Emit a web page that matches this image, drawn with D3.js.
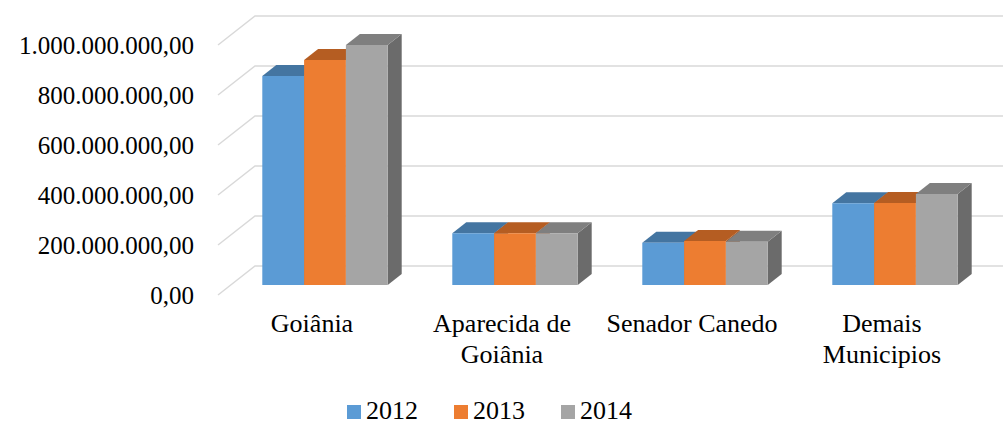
<!DOCTYPE html>
<html>
<head>
<meta charset="utf-8">
<script src="https://cdn.jsdelivr.net/npm/d3@7.9.0/dist/d3.min.js"></script>
<style>
  body { margin: 0; background: #fff; }
  text { font-family: "Liberation Serif", "Times New Roman", serif; fill: #000; }
</style>
</head>
<body>
<svg id="chart" width="1003" height="424"></svg>
<script>
// data
const categories = [['Goiânia'], ['Aparecida de', 'Goiânia'], ['Senador Canedo'], ['Demais', 'Municipios']];
const years = ['2012', '2013', '2014'];
const values2012 = [836e6, 207e6, 169e6, 327e6];
const values2013 = [900e6, 207e6, 176e6, 328e6];
const values2014 = [960e6, 207e6, 173e6, 364e6];
const ticks = [0, 2e8, 4e8, 6e8, 8e8, 1e9];

const series = [values2012, values2013, values2014];
const front = ['#5B9BD5', '#ED7D31', '#A5A5A5'];
const topC = ['#4475A1', '#B55D22', '#7F7F7F'];
const sideC = ['#3E6A92', '#A35420', '#6B6B6B'];

const svg = d3.select('#chart');

// back wall scale + floor depth offsets
const y = d3.scaleLinear().domain([0, 1e9]).range([266, 16]);
const depthX = 37, depthY = 29;   // floor depth
const barOff = 19;                 // bar front face sits this far below the back wall
const bdx = 14, bdy = 11;          // bar depth

const x = d3.scaleBand()
  .domain(d3.range(categories.length))
  .range([230, 990])
  .paddingInner(0.34)
  .paddingOuter(0.17);
const xs = d3.scaleBand().domain(years).range([0, x.bandwidth()]);

// pt-BR number format: 1.000.000,00
const fmt = v => {
  const s = d3.format(',.2f')(v);
  return s.replace(/,/g, '#').replace('.', ',').replace(/#/g, '.');
};

// gridlines: slanted on the side wall, flat on the back wall
const grid = svg.append('g');
ticks.forEach(t => {
  grid.append('path')
    .attr('d', `M${255 - depthX},${y(t) + depthY}L255,${y(t)}L1003,${y(t)}`)
    .attr('fill', 'none')
    .attr('stroke', '#d9d9d9')
    .attr('stroke-width', 1.5);
  svg.append('text')
    .attr('x', 194)
    .attr('y', y(t) + depthY + 8.5)
    .attr('text-anchor', 'end')
    .attr('font-size', 25)
    .text(fmt(t));
});

// bars: side, top, then front face
const bars = svg.append('g');
categories.forEach((c, i) => {
  years.forEach((yr, j) => {
    const v = series[j][i];
    const x0 = x(i) + xs(yr), w = xs.bandwidth();
    const yb = y(0) + barOff, yt = y(v) + barOff;
    bars.append('path')
      .attr('d', `M${x0 + w},${yb}L${x0 + w + bdx},${yb - bdy}L${x0 + w + bdx},${yt - bdy}L${x0 + w},${yt}Z`)
      .attr('fill', sideC[j]);
    bars.append('path')
      .attr('d', `M${x0},${yt}L${x0 + bdx},${yt - bdy}L${x0 + w + bdx},${yt - bdy}L${x0 + w},${yt}Z`)
      .attr('fill', topC[j]);
    bars.append('rect')
      .attr('x', x0).attr('y', yt)
      .attr('width', w).attr('height', yb - yt)
      .attr('fill', front[j]);
  });
});

// category labels, centred on the front edge of the floor
categories.forEach((lines, i) => {
  const t = svg.append('text')
    .attr('text-anchor', 'middle')
    .attr('font-size', 26);
  lines.forEach((l, k) => {
    t.append('tspan')
      .attr('x', x(i) + x.bandwidth() / 2 - 13)
      .attr('y', 332 + k * 31)
      .text(l);
  });
});

// legend
const legend = svg.append('g');
years.forEach((yr, j) => {
  const lx = 347 + j * 107;
  legend.append('rect')
    .attr('x', lx).attr('y', 405)
    .attr('width', 14).attr('height', 14)
    .attr('fill', front[j]);
  legend.append('text')
    .attr('x', lx + 19).attr('y', 419)
    .attr('font-size', 26)
    .text(yr);
});
</script>
</body>
</html>
